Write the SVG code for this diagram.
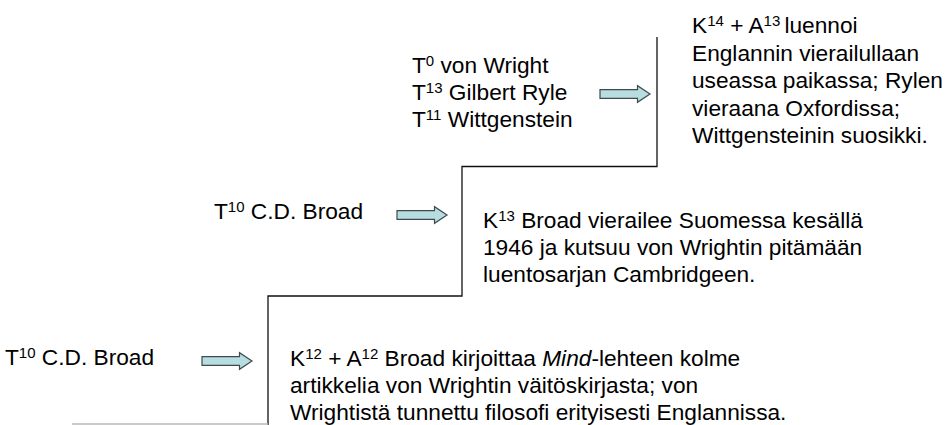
<svg xmlns="http://www.w3.org/2000/svg" xmlns:xlink="http://www.w3.org/1999/xlink" width="948" height="425" viewBox="0 0 948 425">
<style>
  text { font-family: "Liberation Sans", Arial, sans-serif; font-size: 22.7px; fill: #000; }
  .sup { font-size: 15px; }
  .stair { fill: none; stroke: #111; stroke-width: 1.3; }
  .base { fill: none; stroke: #b8b8b8; stroke-width: 1.3; }
  .arrow { fill: #b8dde1; stroke: #3e4a4c; stroke-width: 1.2; stroke-linejoin: miter; }
</style>
<defs>
  <path id="blockArrow" class="arrow" d="M0,-4.3 H37.5 V-8.3 L50,0 L37.5,8.3 V4.3 H0 Z"/>
</defs>
<rect width="948" height="425" fill="#fff"/>
<g id="frame">
  <path class="stair" d="M657,37 V166.5 H462 V296 H268 V425"/>
  <line class="base" x1="72" y1="424" x2="268" y2="424"/>
</g>
<g id="n_top_left">
  <text x="412" y="73">T<tspan class="sup" dy="-7.5">0</tspan><tspan dy="7.5"> von Wright</tspan></text>
  <text x="412" y="100">T<tspan class="sup" dy="-7.5">13</tspan><tspan dy="7.5"> Gilbert Ryle</tspan></text>
  <text x="412" y="127">T<tspan class="sup" dy="-7.5">11</tspan><tspan dy="7.5"> Wittgenstein</tspan></text>
</g>
<g id="n_top_right">
  <text x="692" y="33">K<tspan class="sup" dy="-7.5">14</tspan><tspan dy="7.5"> + A</tspan><tspan class="sup" dy="-7.5">13 </tspan><tspan dy="7.5">luennoi</tspan></text>
  <text x="692" y="60.5">Englannin vierailullaan</text>
  <text x="692" y="88">useassa paikassa; Rylen</text>
  <text x="692" y="115.5">vieraana Oxfordissa;</text>
  <text x="692" y="143">Wittgensteinin suosikki.</text>
</g>
<g id="n_mid_left">
  <text x="214" y="219">T<tspan class="sup" dy="-7.5">10</tspan><tspan dy="7.5"> C.D. Broad</tspan></text>
</g>
<g id="n_mid_right">
  <text x="483" y="228">K<tspan class="sup" dy="-7.5">13</tspan><tspan dy="7.5"> Broad vierailee Suomessa kesällä</tspan></text>
  <text x="483" y="255">1946 ja kutsuu von Wrightin pitämään</text>
  <text x="483" y="282">luentosarjan Cambridgeen.</text>
</g>
<g id="n_low_left">
  <text x="5" y="365">T<tspan class="sup" dy="-7.5">10</tspan><tspan dy="7.5"> C.D. Broad</tspan></text>
</g>
<g id="n_low_right">
  <text x="290" y="366">K<tspan class="sup" dy="-7.5">12</tspan><tspan dy="7.5"> + A</tspan><tspan class="sup" dy="-7.5">12</tspan><tspan dy="7.5"> Broad kirjoittaa </tspan><tspan font-style="italic">Mind</tspan>-lehteen kolme</text>
  <text x="290" y="393">artikkelia von Wrightin väitöskirjasta; von</text>
  <text x="290" y="420">Wrightistä tunnettu filosofi erityisesti Englannissa.</text>
</g>
<g id="connectors">
  <use xlink:href="#blockArrow" href="#blockArrow" x="600" y="94"/>
  <use xlink:href="#blockArrow" href="#blockArrow" x="397" y="215"/>
  <use xlink:href="#blockArrow" href="#blockArrow" x="202" y="361"/>
</g>
</svg>
